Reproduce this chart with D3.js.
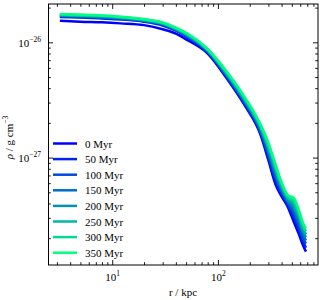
<!DOCTYPE html>
<html>
<head>
<meta charset="utf-8">
<script src="https://cdn.jsdelivr.net/npm/d3@7"></script>
<style>
  body { margin: 0; background: #fff; }
  text { font-family: "Liberation Serif", "DejaVu Serif", serif; fill: #000; }
</style>
</head>
<body>
<div id="chart"></div>
<script>
// radius (kpc) and density profiles, in units of 1e-27 g cm^-3
var radius = [3.2, 5, 8, 12, 20, 30, 40, 50, 80, 120, 180, 250, 300, 350, 400, 460, 520, 580, 640, 680];
var myr0   = [15.4, 15.1, 14.9, 14.6, 14.1, 13.0, 11.9, 10.6, 7.98, 4.93, 2.82, 1.62, 0.948, 0.587, 0.460, 0.370, 0.279, 0.219, 0.172, 0.153];
var myr50  = [16.6, 16.4, 16.1, 15.8, 15.1, 14.0, 12.6, 11.2, 8.17, 5.03, 2.89, 1.67, 1.00, 0.628, 0.481, 0.384, 0.303, 0.238, 0.186, 0.165];
var myr100 = [16.8, 16.6, 16.3, 16.0, 15.3, 14.2, 12.8, 11.4, 8.29, 5.14, 2.97, 1.72, 1.06, 0.672, 0.504, 0.399, 0.328, 0.258, 0.200, 0.179];
var myr150 = [17.0, 16.8, 16.5, 16.1, 15.4, 14.4, 12.9, 11.5, 8.38, 5.24, 3.04, 1.77, 1.12, 0.713, 0.525, 0.413, 0.352, 0.277, 0.214, 0.191];
var myr200 = [17.2, 16.9, 16.7, 16.3, 15.5, 14.5, 13.0, 11.7, 8.47, 5.33, 3.11, 1.83, 1.18, 0.755, 0.546, 0.427, 0.375, 0.297, 0.227, 0.204];
var myr250 = [17.3, 17.1, 16.8, 16.4, 15.6, 14.6, 13.1, 11.8, 8.55, 5.43, 3.18, 1.88, 1.23, 0.796, 0.567, 0.441, 0.399, 0.316, 0.241, 0.216];
var myr300 = [17.45, 17.2, 17.0, 16.6, 15.8, 14.8, 13.3, 11.95, 8.65, 5.54, 3.26, 1.93, 1.29, 0.840, 0.590, 0.456, 0.424, 0.336, 0.255, 0.230];
var myr350 = [17.6, 17.4, 17.1, 16.7, 15.9, 14.9, 13.4, 12.1, 8.75, 5.64, 3.33, 1.98, 1.35, 0.881, 0.611, 0.470, 0.448, 0.355, 0.269, 0.242];

var labels = ["0 Myr", "50 Myr", "100 Myr", "150 Myr", "200 Myr", "250 Myr", "300 Myr", "350 Myr"];
var profiles = [myr0, myr50, myr100, myr150, myr200, myr250, myr300, myr350];
var unit = 1e-27;

var xMajor = [10, 100];
var xMinor = [3, 4, 5, 6, 7, 8, 9, 20, 30, 40, 50, 60, 70, 80, 90, 200, 300, 400, 500, 600, 700, 800];
var yMajor = [1e-27, 1e-26];
var yMinor = [2e-28, 3e-28, 4e-28, 5e-28, 6e-28, 7e-28, 8e-28, 9e-28,
              2e-27, 3e-27, 4e-27, 5e-27, 6e-27, 7e-27, 8e-27, 9e-27, 2e-26];

var svgWidth = 320;
var svgHeight = 300;
var margin = { top: 4, right: 2, bottom: 35, left: 48 };
var width = svgWidth - margin.left - margin.right;
var height = svgHeight - margin.top - margin.bottom;

var svg = d3.select("#chart").append("svg")
    .attr("width", svgWidth)
    .attr("height", svgHeight);

var chartGroup = svg.append("g")
    .attr("transform", `translate(${margin.left}, ${margin.top})`);

var xScale = d3.scaleLog().domain([2.47, 884]).range([0, width]);
var yScale = d3.scaleLog().domain([1.17e-28, 2.15e-26]).range([height, 0]);

// winter colormap, blue -> green
var colors = labels.map((l, i) => d3.rgb(0, Math.round(255 * i / 7), Math.round(255 - 127.5 * i / 7)).toString());

var line = d3.line()
    .x((d, i) => xScale(radius[i]))
    .y(d => yScale(d * unit))
    .curve(d3.curveMonotoneX);

chartGroup.append("clipPath").attr("id", "clip")
    .append("rect").attr("width", width).attr("height", height);

var linesGroup = chartGroup.append("g").attr("clip-path", "url(#clip)");
profiles.forEach((p, i) => {
    linesGroup.append("path")
        .attr("d", line(p))
        .attr("fill", "none")
        .attr("stroke", colors[i])
        .attr("stroke-width", 2.5)
        .attr("stroke-linejoin", "round");
});

// axes: ticks pointing inward on all four sides
function addAxis(axisFn, scale, values, size, transform) {
    var g = chartGroup.append("g")
        .attr("transform", transform)
        .call(axisFn(scale).tickValues(values).tickSize(-size).tickFormat(""));
    g.select(".domain").remove();
    g.selectAll("line").attr("stroke", "#000").attr("stroke-width", 0.9);
    return g;
}

var xBottom = addAxis(d3.axisBottom, xScale, xMajor, 5, `translate(0, ${height})`);
addAxis(d3.axisBottom, xScale, xMinor, 2.8, `translate(0, ${height})`);
addAxis(d3.axisTop, xScale, xMajor, 5, "translate(0, 0)");
addAxis(d3.axisTop, xScale, xMinor, 2.8, "translate(0, 0)");
var yLeft = addAxis(d3.axisLeft, yScale, yMajor, 5, "translate(0, 0)");
addAxis(d3.axisLeft, yScale, yMinor, 2.8, "translate(0, 0)");
addAxis(d3.axisRight, yScale, yMajor, 5, `translate(${width}, 0)`);
addAxis(d3.axisRight, yScale, yMinor, 2.8, `translate(${width}, 0)`);

// tick labels as 10^n
xBottom.selectAll(".tick").each(function (d) {
    var t = d3.select(this).append("text")
        .attr("y", 16)
        .attr("text-anchor", "middle")
        .attr("font-size", 11);
    t.append("tspan").text("10");
    t.append("tspan").attr("dy", -5).attr("font-size", 7.5).text(Math.round(Math.log10(d)));
});

yLeft.selectAll(".tick").each(function (d) {
    var t = d3.select(this).append("text")
        .attr("x", -7)
        .attr("y", 4)
        .attr("text-anchor", "end")
        .attr("font-size", 11);
    t.append("tspan").text("10");
    t.append("tspan").attr("dy", -5).attr("font-size", 7.5)
        .text("\u2212" + Math.abs(Math.round(Math.log10(d))));
});

// frame
chartGroup.append("rect")
    .attr("x", 0.5).attr("y", 0)
    .attr("width", width - 0.5).attr("height", height)
    .attr("fill", "none")
    .attr("stroke", "#000")
    .attr("stroke-width", 1);

// axis labels
chartGroup.append("text")
    .attr("x", width / 2)
    .attr("y", height + 31)
    .attr("text-anchor", "middle")
    .attr("font-size", 11)
    .text("r / kpc");

var yLbl = chartGroup.append("text")
    .attr("transform", `translate(${-35}, ${height / 2 + 3}) rotate(-90)`)
    .attr("text-anchor", "middle")
    .attr("font-size", 11);
yLbl.append("tspan").attr("font-style", "italic").text("\u03c1");
yLbl.append("tspan").text(" / g cm");
yLbl.append("tspan").attr("dy", -5).attr("font-size", 7.5).text("\u22123");

// legend
var legend = chartGroup.append("g")
    .attr("transform", `translate(5, 139.5)`);
labels.forEach((lbl, i) => {
    var row = legend.append("g").attr("transform", `translate(0, ${i * 15.6})`);
    row.append("line")
        .attr("x1", 0).attr("x2", 24)
        .attr("stroke", colors[i])
        .attr("stroke-width", 2.5);
    row.append("text")
        .attr("x", 32)
        .attr("y", 4)
        .attr("font-size", 11)
        .text(lbl);
});
</script>
</body>
</html>
